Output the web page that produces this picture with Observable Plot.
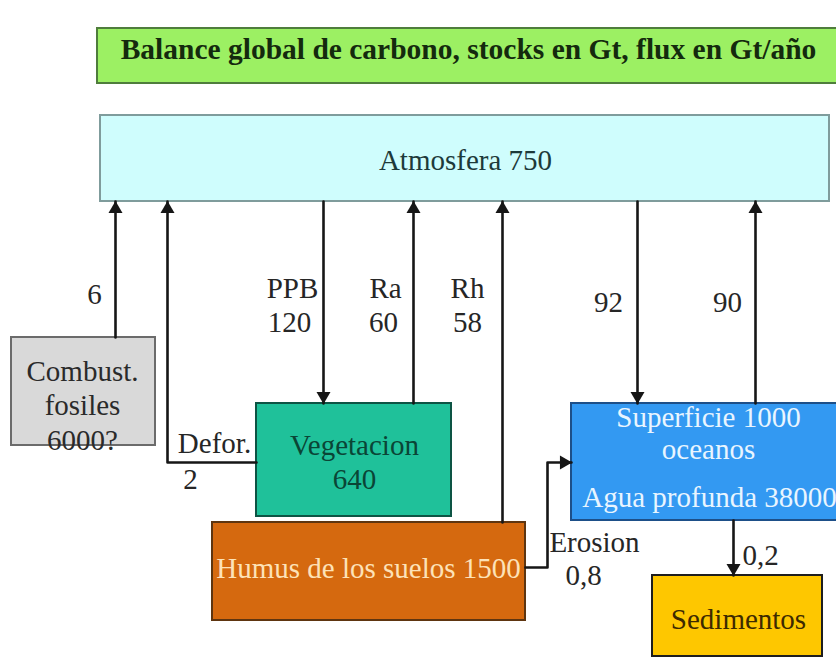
<!DOCTYPE html>
<html>
<head>
<meta charset="utf-8">
<script src="https://cdn.jsdelivr.net/npm/d3@7"></script>
<script src="https://cdn.jsdelivr.net/npm/@observablehq/plot@0.6"></script>
<style>
html, body { margin: 0; padding: 0; background: #ffffff; overflow: hidden; }
</style>
</head>
<body>
<div id="chart"></div>
<script>
// ---------- DATA (stocks in Gt, fluxes in Gt/año) ----------
const title = "Balance global de carbono, stocks en Gt, flux en Gt/año";
const stockIds    = ["atm", "fos", "veg", "hum", "oce", "sed"];
const stockNames  = ["Atmosfera", "Combust.|fosiles", "Vegetacion", "Humus de los suelos", "Superficie", "Sedimentos"];
const stockValues = ["750", "6000?", "640", "1500", "1000", ""];
const deepOceanName = "Agua profunda";
const deepOceanValue = "38000";
const oceanSuffix = "oceanos";

const fluxIds    = ["fos", "def", "ppb", "ra", "rh", "oin", "oout", "ero", "sed"];
const fluxNames  = ["", "Defor.", "PPB", "Ra", "Rh", "", "", "Erosion", ""];
const fluxValues = ["6", "2", "120", "60", "58", "92", "90", "0,8", "0,2"];

// ---------- LAYOUT (diagram geometry, separate from the data) ----------
const boxLayout = {
  title: {x1: 97, x2: 850, y1: 28, y2: 83, fill: "#9cf063", stroke: "#4f7d3c"},
  atm:   {x1: 100, x2: 829, y1: 115, y2: 201, fill: "#cffdfd", stroke: "#7f9c9c"},
  fos:   {x1: 11, x2: 155, y1: 337, y2: 445, fill: "#d9d9d9", stroke: "#6b6b6b"},
  veg:   {x1: 256, x2: 451, y1: 403, y2: 516, fill: "#1fc19a", stroke: "#0d5444"},
  hum:   {x1: 212, x2: 525, y1: 522, y2: 620, fill: "#d5690f", stroke: "#5e3510"},
  oce:   {x1: 571, x2: 850, y1: 403, y2: 520, fill: "#3399f2", stroke: "#1d4f88"},
  sed:   {x1: 652, x2: 822, y1: 575, y2: 656, fill: "#fec700", stroke: "#1e1e1e"}
};
const stockTextLayout = {
  atm: {x: 465, y: [160], color: "#1d3a3a"},
  fos: {x: 82,  y: [371, 405, 440], color: "#2a2a2a"},
  veg: {x: 354, y: [445, 479], color: "#0a4536"},
  hum: {x: 368, y: [568], color: "#fde2b8"},
  oce: {x: 708, y: [417, 449], color: "#e9f5ff"},
  sed: {x: 738, y: [619], color: "#3d2a00"}
};
const deepOceanLayout = {x: 709, y: 497, color: "#e9f5ff"};

// arrow paths (from -> to), head at the last point
const fluxPaths = {
  fos:  [[115, 337], [115, 201]],
  def:  [[256, 462], [167, 462], [167, 201]],
  ppb:  [[323, 201], [323, 403]],
  ra:   [[413, 403], [413, 201]],
  rh:   [[502, 522], [502, 201]],
  oin:  [[637, 201], [637, 403]],
  oout: [[755, 403], [755, 201]],
  ero:  [[525, 567], [547, 567], [547, 462], [571, 462]],
  sed:  [[733, 520], [733, 575]]
};
const fluxNameLayout = {
  def: [214, 443], ppb: [292, 288], ra: [385, 288], rh: [467, 288], ero: [594, 542]
};
const fluxValueLayout = {
  fos: [94, 294], def: [190, 479], ppb: [289, 322], ra: [383, 322], rh: [467, 322],
  oin: [608, 302], oout: [727, 302], ero: [583, 575], sed: [760, 555]
};

// ---------- BUILD TABLES ----------
const boxes = Object.entries(boxLayout).map(([id, b]) => ({id, ...b}));

const stockText = [];
stockIds.forEach((id, i) => {
  let lines;
  if (id === "fos") lines = [...stockNames[i].split("|"), stockValues[i]];
  else if (id === "veg") lines = [stockNames[i], stockValues[i]];
  else if (id === "oce") lines = [`${stockNames[i]} ${stockValues[i]}`, oceanSuffix];
  else lines = [stockValues[i] ? `${stockNames[i]} ${stockValues[i]}` : stockNames[i]];
  const L = stockTextLayout[id];
  lines.forEach((t, k) => stockText.push({text: t, x: L.x, y: L.y[k], color: L.color}));
});
stockText.push({text: `${deepOceanName} ${deepOceanValue}`, x: deepOceanLayout.x, y: deepOceanLayout.y, color: deepOceanLayout.color});

const labelText = [];
fluxIds.forEach((id, i) => {
  if (fluxNames[i]) {
    const [x, y] = fluxNameLayout[id];
    labelText.push({text: fluxNames[i], x, y});
  }
  const [x, y] = fluxValueLayout[id];
  labelText.push({text: fluxValues[i], x, y});
});

const linePts = [];
const heads = [];
const HEAD_OFFSET = 7.5;
fluxIds.forEach((id) => {
  const p = fluxPaths[id];
  p.forEach(([x, y]) => linePts.push({id, x, y}));
  const [xa, ya] = p[p.length - 2];
  const [xb, yb] = p[p.length - 1];
  const dx = Math.sign(xb - xa), dy = Math.sign(yb - ya);
  const rot = dy < 0 ? 0 : dy > 0 ? 180 : dx > 0 ? 90 : 270;
  heads.push({x: xb - dx * HEAD_OFFSET, y: yb - dy * HEAD_OFFSET, rot});
});

// ---------- PLOT ----------
const font = "'Liberation Serif', 'Times New Roman', Times, serif";
const chart = Plot.plot({
  width: 836,
  height: 658,
  margin: 0,
  x: {domain: [0, 836], axis: null},
  y: {domain: [0, 658], reverse: true, axis: null},
  color: {type: "identity"},
  style: {background: "#ffffff", fontFamily: font},
  marks: [
    Plot.rect(boxes, {x1: "x1", x2: "x2", y1: "y1", y2: "y2", fill: "fill", stroke: "stroke", strokeWidth: 2}),
    Plot.line(linePts, {x: "x", y: "y", z: "id", stroke: "#161616", strokeWidth: 2.6, curve: "linear"}),
    Plot.dot(heads, {x: "x", y: "y", symbol: "triangle", r: 5.2, fill: "#161616", stroke: null, rotate: "rot"}),
    Plot.text([title], {x: 468, y: 49, text: d => d, fontSize: 29.5, fontWeight: "bold", fill: "#142a0e", fontFamily: font}),
    Plot.text(stockText, {x: "x", y: "y", text: "text", fill: "color", fontSize: 29, fontFamily: font}),
    Plot.text(labelText, {x: "x", y: "y", text: "text", fill: "#262626", fontSize: 29, fontFamily: font})
  ]
});
document.getElementById("chart").appendChild(chart);
</script>
</body>
</html>
